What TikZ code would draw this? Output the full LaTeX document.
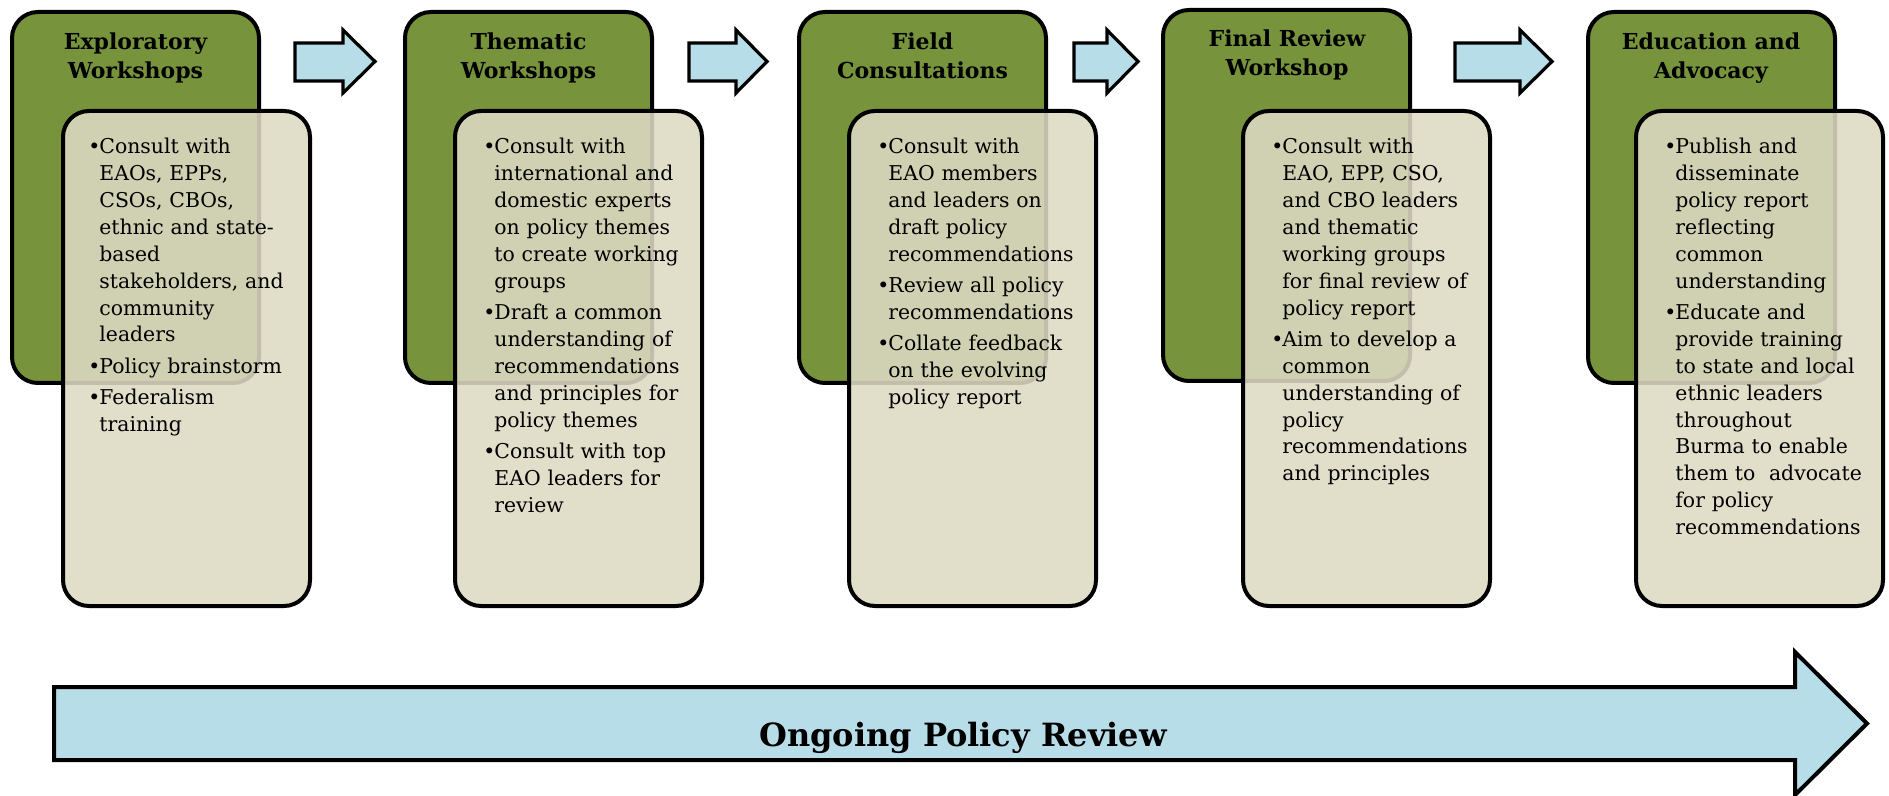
\documentclass[tikz,border=0pt]{standalone}
\usepackage{fontspec}
\setmainfont{DejaVu Serif}
\usetikzlibrary{positioning}

\definecolor{stagegreen}{HTML}{77933C}
\definecolor{detailtan}{HTML}{DDD9C3}
\definecolor{arrowblue}{HTML}{B7DEE8}

\newcommand{\bpoint}[1]{\par\noindent\hangindent=5.5pt\hangafter=1\makebox[5.5pt][l]{\textbullet}#1\par}

\begin{document}
\begin{tikzpicture}[x=0.5pt, y=-0.5pt,
    stagebox/.style={draw, line width=2pt, fill=stagegreen, rounded corners=13pt},
    detailbox/.style={draw, line width=2pt, fill=detailtan, fill opacity=0.88, rounded corners=13pt},
    flowarrow/.style={draw, line width=1.6pt, fill=arrowblue, line join=miter},
    stagetitle/.style={inner sep=0pt, anchor=north, align=center, font=\fontsize{11pt}{14.5pt}\selectfont\bfseries},
    detailtext/.style={inner sep=0pt, anchor=north west, text width=120pt, align=left,
        font=\fontsize{10.2pt}{13.45pt}\selectfont\setlength{\parskip}{2.2pt}}]
    \useasboundingbox (0,0) rectangle (1889,796);

    \foreach \gx/\gt/\bx in {12/12/63, 405/12/455, 799/12/849, 1163/10/1243, 1588/12/1636} {
        \draw[stagebox] (\gx,\gt) rectangle ++(247,371);
        \draw[detailbox] (\bx,111) rectangle ++(247,495);
    }

    \foreach \xa/\xb/\xc in {295/343/375, 689/736/767, 1074/1107/1138, 1455/1520/1552}
        \draw[flowarrow] (\xa,43) -- (\xb,43) -- (\xb,30) -- (\xc,61.5) -- (\xb,93) -- (\xb,81) -- (\xa,81) -- cycle;

    \node[stagetitle] (title1) at (135.5,32) {Exploratory\\Workshops};
    \node[stagetitle] (title2) at (528.5,32) {Thematic\\Workshops};
    \node[stagetitle] (title3) at (922.5,32) {Field\\Consultations};
    \node[stagetitle] (title4) at (1287,29) {Final Review\\Workshop};
    \node[stagetitle] (title5) at (1711,32) {Education and\\Advocacy};

    \node[detailtext] (detail1) at (88,122) {%
        \bpoint{Consult with\newline EAOs, EPPs,\newline CSOs, CBOs,\newline ethnic and state-\newline based\newline stakeholders, and\newline community\newline leaders}
        \bpoint{Policy brainstorm}
        \bpoint{Federalism\newline training}};
    \node[detailtext] (detail2) at (483,122) {%
        \bpoint{Consult with\newline international and\newline domestic experts\newline on policy themes\newline to create working\newline groups}
        \bpoint{Draft a common\newline understanding of\newline recommendations\newline and principles for\newline policy themes}
        \bpoint{Consult with top\newline EAO leaders for\newline review}};
    \node[detailtext] (detail3) at (877,122) {%
        \bpoint{Consult with\newline EAO members\newline and leaders on\newline draft policy\newline recommendations}
        \bpoint{Review all policy\newline recommendations}
        \bpoint{Collate feedback\newline on the evolving\newline policy report}};
    \node[detailtext] (detail4) at (1271,122) {%
        \bpoint{Consult with\newline EAO, EPP, CSO,\newline and CBO leaders\newline and thematic\newline working groups\newline for final review of\newline policy report}
        \bpoint{Aim to develop a\newline common\newline understanding of\newline policy\newline recommendations\newline and principles}};
    \node[detailtext] (detail5) at (1664,122) {%
        \bpoint{Publish and\newline disseminate\newline policy report\newline reflecting\newline common\newline understanding}
        \bpoint{Educate and\newline provide training\newline to state and local\newline ethnic leaders\newline throughout\newline Burma to enable\newline them to~ advocate\newline for policy\newline recommendations}};

    \draw[flowarrow, line width=2pt] (54,687) -- (1795,687) -- (1795,652) -- (1867,723.5) -- (1795,795) -- (1795,760) -- (54,760) -- cycle;
    \node[inner sep=0pt, anchor=base, font=\fontsize{16pt}{19pt}\selectfont\bfseries] (review) at (963,746) {Ongoing Policy Review};
\end{tikzpicture}
\end{document}
